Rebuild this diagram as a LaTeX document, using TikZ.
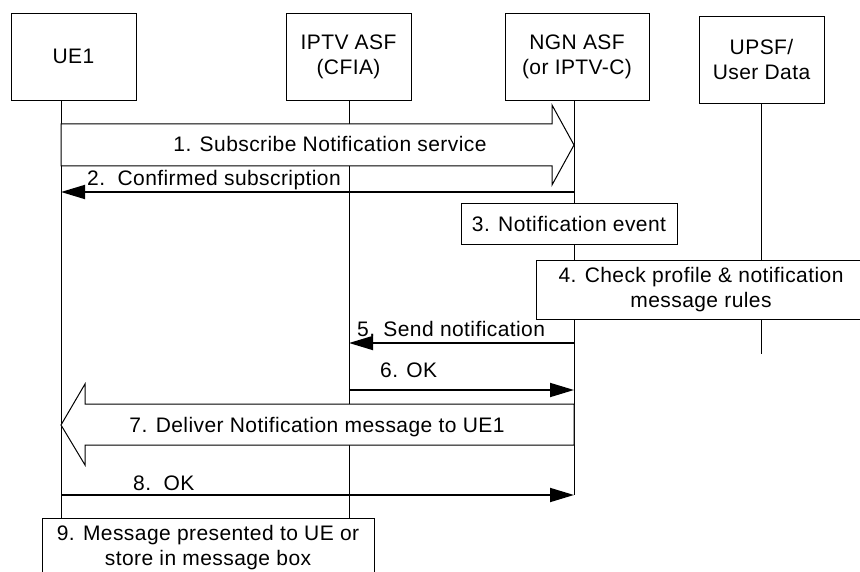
\documentclass[tikz,border=0pt]{standalone}
\usepackage{fontspec}
\setmainfont[LetterSpace=2]{Liberation Sans}
\usetikzlibrary{arrows.meta}

\tikzset{
	entity/.style={draw, line width=0.8pt, fill=white, minimum width=125pt, minimum height=87pt, align=center, inner sep=0pt},
	stepbox/.style={draw, line width=0.8pt, fill=white, align=center, inner sep=0pt},
	msg/.style={line width=1.8pt, -{Triangle[length=24pt, width=14pt]}},
	bigarrow/.style={draw, line width=1pt, fill=white, line join=miter},
	msglabel/.style={inner sep=0pt, anchor=base west},
}

\begin{document}
\begin{tikzpicture}[x=1pt, y=-1pt, font=\fontsize{21}{25}\selectfont]
	\useasboundingbox (0,0) rectangle (860,572);
	\clip (0,0) rectangle (860,572);
	% lifelines
	\coordinate (ueT) at (61,100);
	\coordinate (ueB) at (61,518);
	\coordinate (ipT) at (349,100);
	\coordinate (ipB) at (349,518);
	\coordinate (ngT) at (574,100);
	\coordinate (ngB) at (574,495);
	\coordinate (upT) at (761,103);
	\coordinate (upB) at (761,354);
	\draw[line width=0.8pt] (ueT)--(ueB);
	\draw[line width=0.8pt] (ipT)--(ipB);
	\draw[line width=0.8pt] (ngT)--(ngB);
	\draw[line width=0.8pt] (upT)--(upB);
	% participants
	\node[entity] (ue) at (73.5,56.5) {UE1};
	\node[entity] (iptv) at (348.5,56.5) {IPTV ASF\\(CFIA)};
	\node[entity, minimum width=144pt] (ngn) at (577,56.5) {NGN ASF\\(or IPTV-C)};
	\node[entity] (upsf) at (761.5,59.5) {UPSF/\\User Data};
	% 1. subscribe
	\draw[bigarrow] (61,124)--(552,124)--(552,105)--(574,145)--(552,185)--(552,166)--(61,166)--cycle;
	\node[inner sep=0pt, anchor=base] (l1) at (330,152) {1. Subscribe Notification service};
	% 2. confirmed
	\coordinate (ng2) at (574,192);
	\coordinate (ue2) at (61,192);
	\draw[msg] (ng2)--(ue2);
	\node[msglabel] (l2) at (87,186) {2.\ \ Confirmed subscription};
	% 3. and 4.
	\node[stepbox, minimum width=216pt, minimum height=41pt] (ev) at (569,223.5) {3. Notification event};
	\node[stepbox, minimum width=330pt, minimum height=59pt] (chk) at (701,289.5) {4. Check profile \& notification\\message rules};
	% 5. send
	\coordinate (ng5) at (574,343);
	\coordinate (ip5) at (349,343);
	\draw[msg] (ng5)--(ip5);
	\node[msglabel] (l5) at (357,337) {5. Send notification};
	% 6. ok
	\coordinate (ip6) at (349,390);
	\coordinate (ng6) at (574,390);
	\draw[msg] (ip6)--(ng6);
	\node[msglabel] (l6) at (380,377) {6. OK};
	% 7. deliver
	\draw[bigarrow] (574,404)--(85,404)--(85,384)--(61,425)--(85,465)--(85,445)--(574,445)--cycle;
	\node[inner sep=0pt, anchor=base] (l7) at (317,432) {7. Deliver Notification message to UE1};
	% 8. ok
	\coordinate (ue8) at (61,495);
	\coordinate (ng8) at (574,495);
	\draw[msg] (ue8)--(ng8);
	\node[msglabel] (l8) at (133,490) {8.\ \ OK};
	% 9. presented
	\node[stepbox, minimum width=332pt, minimum height=60pt] (pres) at (208,548) {9. Message presented to UE or\\store in message box};
\end{tikzpicture}
\end{document}
